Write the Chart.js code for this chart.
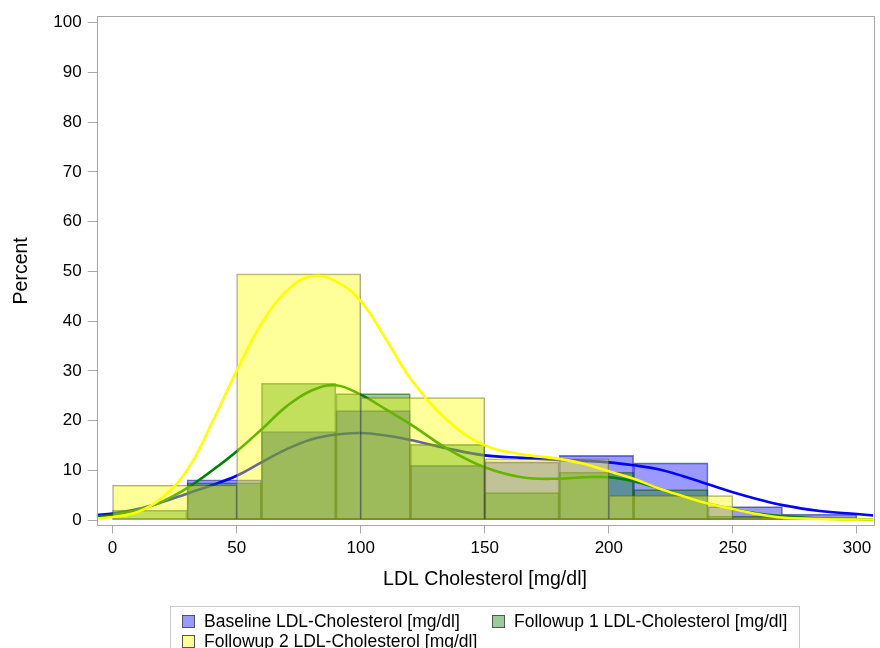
<!DOCTYPE html>
<html>
<head>
<meta charset="utf-8">
<script src="https://cdn.jsdelivr.net/npm/chart.js@4.4.1/dist/chart.umd.min.js"></script>
<style>
  html,body{margin:0;padding:0;background:#fff;}
  #wrap{position:relative;width:880px;height:648px;overflow:hidden;font-family:'Liberation Sans',Arial,sans-serif;}
  #legend{position:absolute;left:170px;top:606px;width:630px;height:60px;border:1px solid #c8c8c8;box-sizing:border-box;}
  .lg{position:absolute;font-size:17.5px;color:#000;line-height:20px;white-space:nowrap;}
  .lg i{position:absolute;left:-22px;top:4px;width:11px;height:11px;border:1px solid #555;}
</style>
</head>
<body>
<div id="wrap">
  <canvas id="c" width="880" height="648"></canvas>
  <div id="legend"></div>
</div>
<script>
// ── Histogram bins (bin centres) and percentages ──
const baseBins = [45, 75, 105, 135, 165, 195, 225, 255, 285];
const basePct  = [8.1, 17.8, 22.0, 11.0, 11.7, 13.0, 11.5, 2.7, 1.2];
const fu1Bins  = [15, 45, 75, 105, 135, 165, 195, 225, 255];
const fu1Pct   = [2.0, 7.5, 27.5, 25.4, 15.2, 5.5, 9.6, 6.1, 0.8];
const fu2Bins  = [25, 75, 125, 175, 225, 275];
const fu2Pct   = [7.0, 49.5, 24.6, 12.3, 4.9, 0.6];

// ── Density curves ──
const densX    = [-6.4, 0, 10, 20, 30, 40, 50, 60, 70, 80, 90, 100, 110, 120, 135, 150, 165, 180, 190, 200, 210, 220, 230, 240, 250, 260, 270, 285, 300, 306.6];
const baseDens = [1.0, 1.3, 2.2, 3.6, 5.3, 7.0, 8.9, 11.6, 14.2, 16.2, 17.2, 17.5, 17.0, 16.1, 14.4, 13.0, 12.5, 12.1, 11.9, 11.6, 11.0, 10.2, 8.8, 7.2, 5.6, 4.2, 3.0, 1.8, 1.2, 0.9];
const fu1Dens  = [0.7, 1.0, 2.0, 3.7, 6.4, 9.9, 13.8, 18.2, 22.8, 26.0, 27.1, 25.2, 22.3, 19.3, 14.3, 10.6, 8.6, 8.3, 8.6, 8.6, 7.8, 6.4, 4.8, 3.3, 2.2, 1.3, 0.8, 0.3, 0.15, 0.1];
const fu2Dens  = [0.3, 0.6, 1.6, 4.5, 10.0, 19.5, 30.0, 39.5, 46.0, 49.0, 48.0, 44.0, 36.5, 28.5, 20.0, 15.0, 13.2, 12.3, 11.3, 9.8, 8.3, 6.4, 4.8, 3.3, 2.2, 1.2, 0.5, 0.2, 0.1, 0.1];

const xTicks = [0, 50, 100, 150, 200, 250, 300];
const yTicks = [0, 10, 20, 30, 40, 50, 60, 70, 80, 90, 100];

const names = ['Baseline LDL-Cholesterol [mg/dl]', 'Followup 1 LDL-Cholesterol [mg/dl]', 'Followup 2 LDL-Cholesterol [mg/dl]'];
const FONT = "'Liberation Sans', Arial, sans-serif";
const AXIS = '#a8a8a8';

const pts = (xs, ys) => xs.map((x, i) => ({x, y: ys[i]}));

const bar = (label, xs, ys, fill, edge, axis, order) => ({
  type: 'bar', label, data: pts(xs, ys), xAxisID: axis, order,
  backgroundColor: fill, borderColor: edge, borderWidth: 1, borderSkipped: false,
  grouped: false, barPercentage: 1, categoryPercentage: 1
});
const curve = (xs, ys, color, order) => ({
  type: 'line', label: '_curve', data: pts(xs, ys), xAxisID: 'x', order,
  borderColor: color, borderWidth: 2.6, pointRadius: 0, fill: false, tension: 0.4
});

const frame = {
  id: 'frame',
  afterDatasetsDraw(chart){
    const {ctx, chartArea: a} = chart;
    ctx.save();
    ctx.strokeStyle = AXIS;
    ctx.lineWidth = 1;
    ctx.strokeRect(Math.round(a.left) + 0.5, Math.round(a.top) + 0.5, Math.round(a.right - a.left), Math.round(a.bottom - a.top));
    ctx.restore();
  }
};

new Chart(document.getElementById('c'), {
  type: 'bar',
  data: {datasets: [
    bar(names[0], baseBins, basePct, 'rgba(0,0,255,0.4)', 'rgba(20,20,110,0.55)', 'x', 6),
    curve(densX, baseDens, '#0000ff', 5),
    bar(names[1], fu1Bins, fu1Pct, 'rgba(0,128,0,0.4)', 'rgba(20,70,20,0.55)', 'x', 4),
    curve(densX, fu1Dens, '#008000', 3),
    bar(names[2], fu2Bins, fu2Pct, 'rgba(255,255,0,0.4)', 'rgba(90,90,30,0.5)', 'x2', 2),
    curve(densX, fu2Dens, '#ffff00', 1),
  ]},
  options: {
    responsive: false, animation: false,
    layout: {padding: {left: 0, right: 6.7, top: 14.3, bottom: 48}},
    plugins: {legend: {display: false}, tooltip: {enabled: false}},
    scales: {
      x: {
        type: 'linear', min: -6.4, max: 306.6, offset: false,
        afterFit: s => { s.height = 74.5; },
        afterBuildTicks: s => { s.ticks = xTicks.map(v => ({value: v})); },
        grid: {drawOnChartArea: false, drawTicks: true, tickLength: 8, color: AXIS, offset: false},
        border: {display: false},
        ticks: {font: {family: FONT, size: 17}, color: '#000', padding: 5},
        title: {display: true, text: 'LDL Cholesterol [mg/dl]', font: {family: FONT, size: 19.5}, color: '#000', padding: {top: 0, bottom: 9}}
      },
      x2: {
        type: 'linear', display: false, min: -6.4, max: 306.6, offset: false,
        ticks: {stepSize: 50}, grid: {offset: false}
      },
      y: {
        min: -1.1, max: 101.3,
        afterFit: s => { s.width = 96.7; },
        afterBuildTicks: s => { s.ticks = yTicks.map(v => ({value: v})); },
        grid: {drawOnChartArea: false, drawTicks: true, tickLength: 9, color: AXIS},
        border: {display: false},
        ticks: {font: {family: FONT, size: 17}, color: '#000', padding: 6},
        title: {display: true, text: 'Percent', font: {family: FONT, size: 19.5}, color: '#000', padding: {top: 10, bottom: 0}}
      }
    }
  },
  plugins: [frame]
});

// legend laid out like the reference: two entries on the first row, one on the second
const swatch = ['#9999ff', '#99cc99', '#ffff99'];
const spots = [[33, 4], [343, 4], [33, 24]];
document.getElementById('legend').innerHTML = names.map((n, i) =>
  `<div class="lg" style="left:${spots[i][0]}px;top:${spots[i][1]}px"><i style="background:${swatch[i]}"></i>${n}</div>`
).join('');
</script>
</body>
</html>
